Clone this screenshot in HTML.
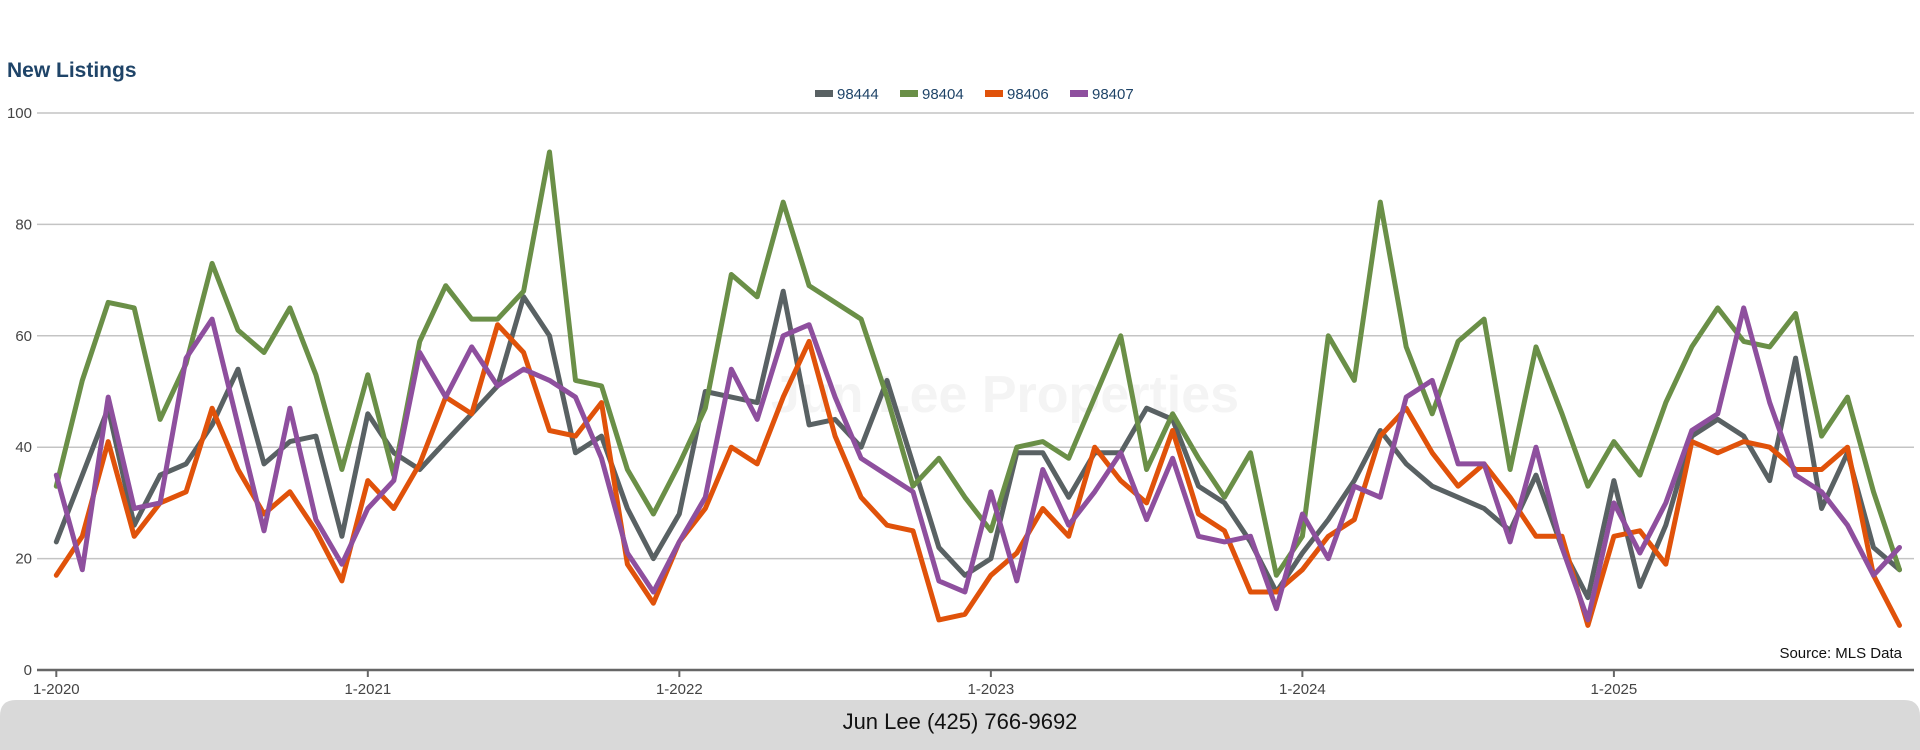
<!DOCTYPE html>
<html><head><meta charset="utf-8">
<style>
html,body{margin:0;padding:0;background:#fff;}
body{width:1920px;height:750px;overflow:hidden;position:relative;font-family:"Liberation Sans",sans-serif;}
svg{position:absolute;left:0;top:0;}
</style></head>
<body>
<svg id="chart" width="1920" height="750" xmlns="http://www.w3.org/2000/svg">
  <text x="7" y="77" font-family="Liberation Sans, sans-serif" font-size="21" font-weight="bold" fill="#1f4468">New Listings</text>
  <text x="1005" y="412" text-anchor="middle" font-family="Liberation Sans, sans-serif" font-size="52" font-weight="bold" fill="#f4f4f4">Jun Lee Properties</text>
  <g id="grid"></g>
  <g id="series"></g>
  <g id="legend"></g>
  <text x="1902" y="658" text-anchor="end" font-family="Liberation Sans, sans-serif" font-size="15" fill="#111">Source: MLS Data</text>
  <path d="M0,750 L0,716 Q0,700 16,700 L1904,700 Q1920,700 1920,716 L1920,750 Z" fill="#d9d9d9"/>
  <text x="960" y="729" text-anchor="middle" font-family="Liberation Sans, sans-serif" font-size="22" fill="#111">Jun Lee (425) 766-9692</text>
</svg>
<script>
const seriesNames = ["98444","98404","98406","98407"];
const seriesColors = ["#596163","#6a8f47","#e0520a","#8e4f9e"];
const yTicks = [0,20,40,60,80,100];
const xTickLabels = ["1-2020","1-2021","1-2022","1-2023","1-2024","1-2025"];
const s98444 = [23,35,47,26,35,37,44,54,37,41,42,24,46,39,36,41,46,51,67,60,39,42,29,20,
28,50,49,48,68,44,45,40,52,37,22,17,20,39,39,31,39,39,47,45,33,30,23,14,
21,27,34,43,37,33,31,29,25,35,22,13,34,15,26,42,45,42,34,56,29,39,22,18];
const s98404 = [33,52,66,65,45,55,73,61,57,65,53,36,53,35,59,69,63,63,68,93,52,51,36,28,
37,47,71,67,84,69,66,63,49,33,38,31,25,40,41,38,49,60,36,46,38,31,39,17,
24,60,52,84,58,46,59,63,36,58,46,33,41,35,48,58,65,59,58,64,42,49,32,18];
const s98406 = [17,24,41,24,30,32,47,36,28,32,25,16,34,29,37,49,46,62,57,43,42,48,19,12,
23,29,40,37,49,59,42,31,26,25,9,10,17,21,29,24,40,34,30,43,28,25,14,14,
18,24,27,42,47,39,33,37,31,24,24,8,24,25,19,41,39,41,40,36,36,40,17,8];
const s98407 = [35,18,49,29,30,56,63,44,25,47,27,19,29,34,57,49,58,51,54,52,49,38,21,14,
23,31,54,45,60,62,49,38,35,32,16,14,32,16,36,26,32,39,27,38,24,23,24,11,
28,20,33,31,49,52,37,37,23,40,22,9,30,21,30,43,46,65,48,35,32,26,17,22];
const allSeries = [s98444,s98404,s98406,s98407];

const NS="http://www.w3.org/2000/svg";
const X0=56.3, STEP=25.96, Y0=670, Y100=113;
function xScale(i){return X0+i*STEP;}
function yScale(v){return Y0-(v/100)*(Y0-Y100);}
function mk(tag,attrs,parent){const e=document.createElementNS(NS,tag);for(const k in attrs)e.setAttribute(k,attrs[k]);parent.appendChild(e);return e;}

const grid=document.getElementById('grid');
yTicks.forEach(t=>{
  const y=yScale(t);
  if(t>0){
    const l=mk('line',{x1:37,x2:1914,y1:y,y2:y,stroke:'#c4c4c4','stroke-width':1.5},grid);
    
    
  }
  const tx=mk('text',{x:32,y:y+5,'text-anchor':'end','font-size':15,fill:'#444','font-family':'Liberation Sans, sans-serif'},grid);
  tx.textContent=t;
  
  
});
const axis=mk('line',{x1:37,x2:1914,y1:Y0,y2:Y0,stroke:'#666','stroke-width':2.5},grid);


xTickLabels.forEach((lab,k)=>{
  const x=xScale(k*12);
  const tk=mk('line',{x1:x,x2:x,y1:Y0,y2:Y0+7,stroke:'#666','stroke-width':2},grid);
  
  
  const tx=mk('text',{x:x,y:Y0+24,'text-anchor':'middle','font-size':15,fill:'#444','font-family':'Liberation Sans, sans-serif'},grid);
  tx.textContent=lab;
  
  
});

const sg=document.getElementById('series');
allSeries.forEach((arr,si)=>{
  const pts=arr.map((v,i)=>xScale(i).toFixed(1)+','+yScale(v).toFixed(1)).join(' ');
  const p=mk('polyline',{points:pts,fill:'none',stroke:seriesColors[si],'stroke-width':5,'stroke-linejoin':'round','stroke-linecap':'round'},sg);
  
  
});

const lg=document.getElementById('legend');
let lx=815;
seriesNames.forEach((n,si)=>{
  const g=mk('g',{},lg);
  
  
  mk('rect',{x:lx,y:90,width:18,height:7,fill:seriesColors[si]},g);
  const t=mk('text',{x:lx+22,y:99,'font-size':15,fill:'#1f4468','font-family':'Liberation Sans, sans-serif'},g);
  t.textContent=n;
  lx+=85;
});
</script>
</body></html>
